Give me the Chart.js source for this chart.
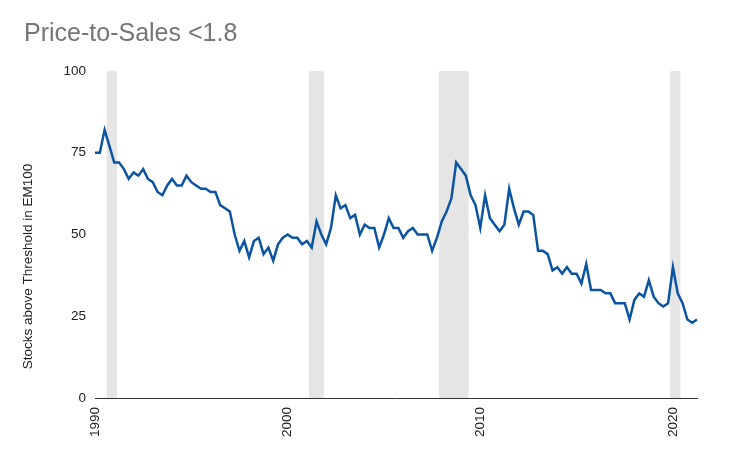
<!DOCTYPE html>
<html>
<head>
<meta charset="utf-8">
<script src="https://cdn.jsdelivr.net/npm/chart.js@4"></script>
<style>
  html, body { margin: 0; padding: 0; background: #fff; }
  #wrap { width: 750px; height: 463px; position: relative; }
</style>
</head>
<body>
<div id="wrap"><canvas id="chart"></canvas></div>
<script>
// quarterly, 1990 Q1 .. 2021 Q2
const quarters = [];
for (let y = 1990; y <= 2021; y++) {
  for (let q = 1; q <= 4; q++) quarters.push(y + " Q" + q);
}
quarters.length = 126;

const stocksAbove = [
  75, 75, 82, 77, 72, 72, 70, 67, 69, 68,
  70, 67, 66, 63, 62, 65, 67, 65, 65, 68,
  66, 65, 64, 64, 63, 63, 59, 58, 57, 50,
  45, 48, 43, 48, 49, 44, 46, 42, 47, 49,
  50, 49, 49, 47, 48, 46, 54, 50, 47, 52,
  62, 58, 59, 55, 56, 50, 53, 52, 52, 46,
  50, 55, 52, 52, 49, 51, 52, 50, 50, 50,
  45, 49, 54, 57, 61, 72, 70, 68, 62, 59,
  52, 62, 55, 53, 51, 53, 64, 58, 53, 57,
  57, 56, 45, 45, 44, 39, 40, 38, 40, 38,
  38, 35, 41, 33, 33, 33, 32, 32, 29, 29,
  29, 24, 30, 32, 31, 36, 31, 29, 28, 29,
  40, 32, 29, 24, 23, 24
];

const recessionQuarters = [
  "1990 Q4", "1991 Q1",
  "2001 Q2", "2001 Q3", "2001 Q4",
  "2008 Q1", "2008 Q2", "2008 Q3", "2008 Q4", "2009 Q1", "2009 Q2",
  "2020 Q1", "2020 Q2"
];

const tickQuarters = ["1990 Q1", "2000 Q1", "2010 Q1", "2020 Q1"];
const tickLabels = ["1990", "2000", "2010", "2020"];

const FONT = "'Liberation Sans', Arial, sans-serif";

const recessionBars = quarters.map(q => recessionQuarters.includes(q) ? 100 : null);

// y title sits lower than the plot's centre in the original
const yTitle = {
  id: "yTitle",
  afterDraw(chart) {
    const { ctx, chartArea } = chart;
    ctx.save();
    ctx.translate(28, (chartArea.top + chartArea.bottom) / 2 + 32);
    ctx.rotate(-Math.PI / 2);
    ctx.fillStyle = "#222";
    ctx.font = "13.5px " + FONT;
    ctx.textAlign = "center";
    ctx.textBaseline = "middle";
    ctx.fillText("Stocks above Threshold in EM100", 0, 0);
    ctx.restore();
  }
};

new Chart(document.getElementById("chart"), {
  type: "line",
  data: {
    labels: quarters,
    datasets: [
      {
        label: "Stocks above threshold",
        data: stocksAbove,
        borderColor: "#0b54a2",
        borderWidth: 2.5,
        pointRadius: 0,
        tension: 0,
        fill: false,
        order: 0
      },
      {
        type: "bar",
        label: "Recession",
        data: recessionBars,
        backgroundColor: "#e5e5e5",
        barPercentage: 1,
        categoryPercentage: 1,
        borderRadius: (c) => {
          const d = c.dataset.data, i = c.dataIndex;
          return {
            topLeft: d[i - 1] == null ? 3 : 0,
            topRight: d[i + 1] == null ? 3 : 0,
            bottomLeft: 0,
            bottomRight: 0
          };
        },
        order: 1
      }
    ]
  },
  options: {
    responsive: true,
    maintainAspectRatio: false,
    animation: false,
    layout: { padding: { top: 9, left: 24, right: 53, bottom: 0 } },
    plugins: {
      legend: { display: false },
      tooltip: { enabled: false },
      title: {
        display: true,
        text: "Price-to-Sales <1.8",
        align: "start",
        color: "#757575",
        font: { family: FONT, size: 25, weight: "normal" },
        padding: { top: 10, bottom: 22 }
      }
    },
    scales: {
      x: {
        type: "category",
        offset: false,
        grid: { display: false, drawTicks: false },
        border: { display: true, color: "#333", width: 1 },
        ticks: {
          autoSkip: false,
          minRotation: 90,
          maxRotation: 90,
          padding: 9,
          color: "#222",
          font: { family: FONT, size: 13.5 },
          callback: (v, i) => {
            const k = tickQuarters.indexOf(quarters[i]);
            return k >= 0 ? tickLabels[k] : null;
          }
        },
        afterFit: (s) => { s.height = 65; }
      },
      y: {
        min: 0,
        max: 100,
        grid: { display: false, drawTicks: false },
        border: { display: false },
        ticks: {
          stepSize: 25,
          padding: 9,
          color: "#222",
          font: { family: FONT, size: 13.5 }
        },
        afterFit: (s) => { s.width = 71; }
      }
    }
  },
  plugins: [yTitle]
});
</script>
</body>
</html>
